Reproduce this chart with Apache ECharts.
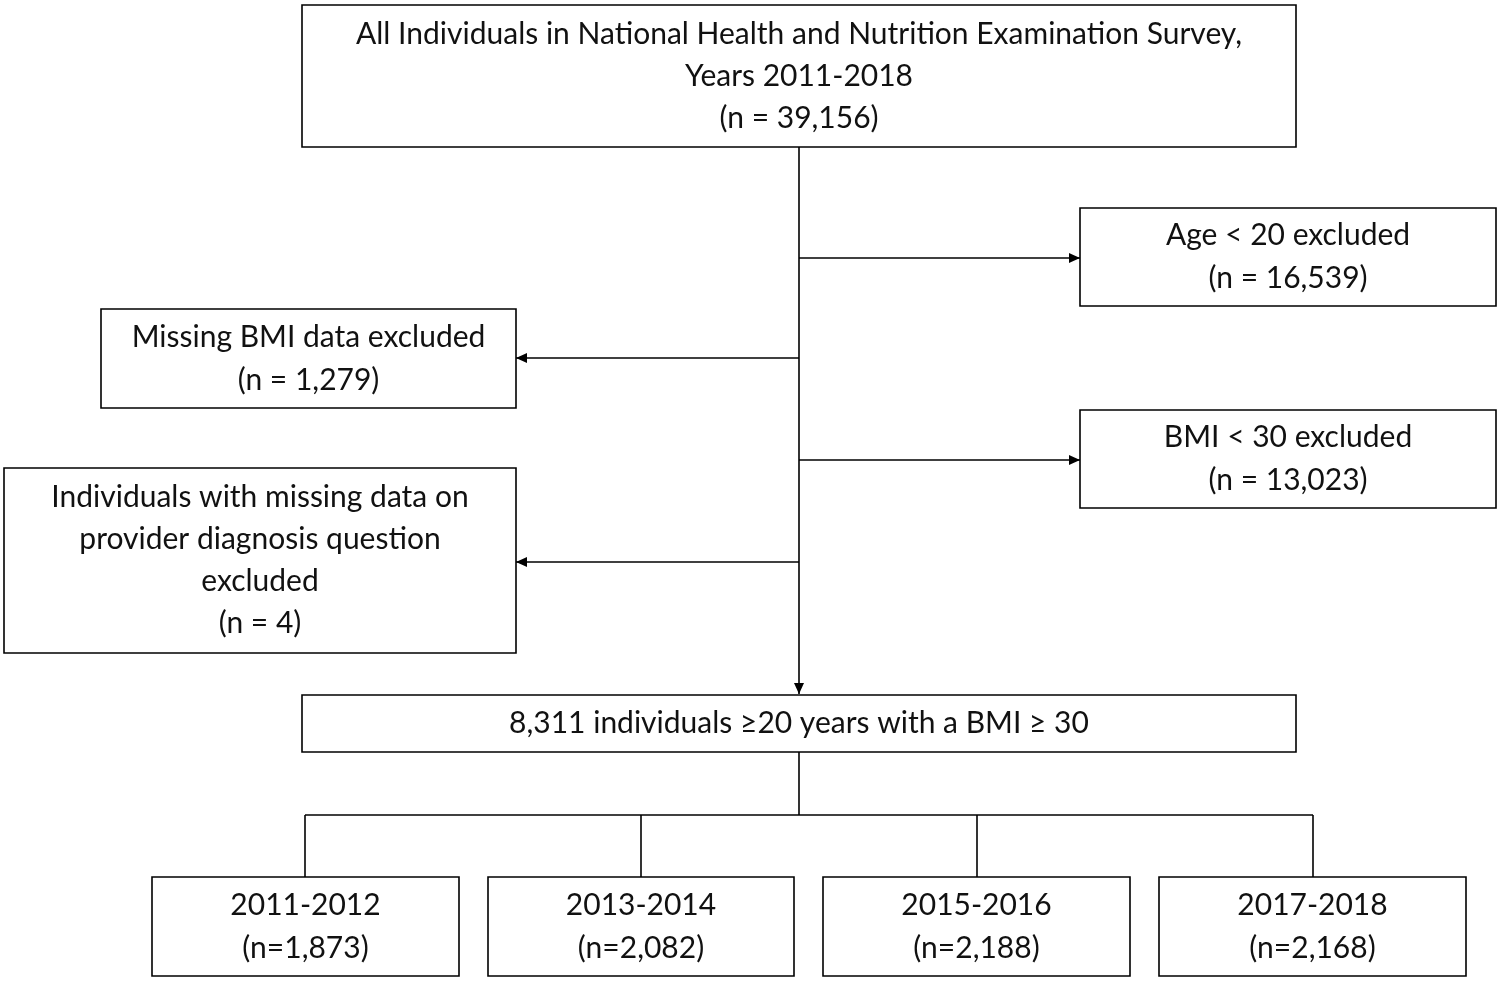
<!DOCTYPE html>
<html><head><meta charset="utf-8">
<script src="https://cdn.jsdelivr.net/npm/echarts@6/dist/echarts.min.js"></script>
<style>html,body{margin:0;background:#fff}#c{width:1500px;height:982px}</style>
</head><body><div id="c"></div>
<script>
const boxTexts = [
  ["All Individuals in National Health and Nutrition Examination Survey,", "Years 2011-2018", "(n = 39,156)"],
  ["Age < 20 excluded", "(n = 16,539)"],
  ["Missing BMI data excluded", "(n = 1,279)"],
  ["BMI < 30 excluded", "(n = 13,023)"],
  ["Individuals with missing data on", "provider diagnosis question", "excluded", "(n = 4)"],
  ["8,311 individuals \u226520 years with a BMI \u2265 30"],
  ["2011-2012", "(n=1,873)"],
  ["2013-2014", "(n=2,082)"],
  ["2015-2016", "(n=2,188)"],
  ["2017-2018", "(n=2,168)"]
];
const boxLayout = [
  [302,5,994,142,42],[1080,208,416,98,43],[101,309,415,99,43],[1080,410,416,98,43],
  [4,468,512,185,42],[302,695,994,57,0],[152,877,307,99,43],[488,877,306,99,43],
  [823,877,307,99,43],[1159,877,307,99,43]
];
const font = '30px Lato, "Open Sans", sans-serif';
const g = [];
const stroke = {stroke:'#000', lineWidth:1.6};
boxTexts.forEach((lines,i)=>{
  const [x,y,w,h,lh]=boxLayout[i];
  g.push({type:'rect',shape:{x,y,width:w,height:h},style:{fill:'#fff',...stroke}});
  const total = (lines.length-1)*lh;
  lines.forEach((t,j)=>{
    g.push({type:'text',x:x+w/2,y:y+h/2-total/2+j*lh,style:{text:t,font,fill:'#111',align:'center',verticalAlign:'middle'}});
  });
});
function line(x1,y1,x2,y2){g.push({type:'line',shape:{x1,y1,x2,y2},style:stroke});}
function arrow(x1,y1,x2,y2){
  line(x1,y1,x2,y2);
  const a=Math.atan2(y2-y1,x2-x1),L=11,W=5;
  const p=[[x2,y2],[x2-L*Math.cos(a)+W*Math.sin(a),y2-L*Math.sin(a)-W*Math.cos(a)],[x2-L*Math.cos(a)-W*Math.sin(a),y2-L*Math.sin(a)+W*Math.cos(a)]];
  g.push({type:'polygon',shape:{points:p},style:{fill:'#000'}});
}
arrow(799,147,799,694);
arrow(799,258,1080,258);
arrow(799,358,516,358);
arrow(799,460,1080,460);
arrow(799,562,516,562);
line(799,752,799,815);
line(305,815,1313,815);
[305,641,977,1313].forEach(x=>line(x,815,x,877));
const chart = echarts.init(document.getElementById('c'));
chart.setOption({animation:false,graphic:{elements:g}});
</script></body></html>
